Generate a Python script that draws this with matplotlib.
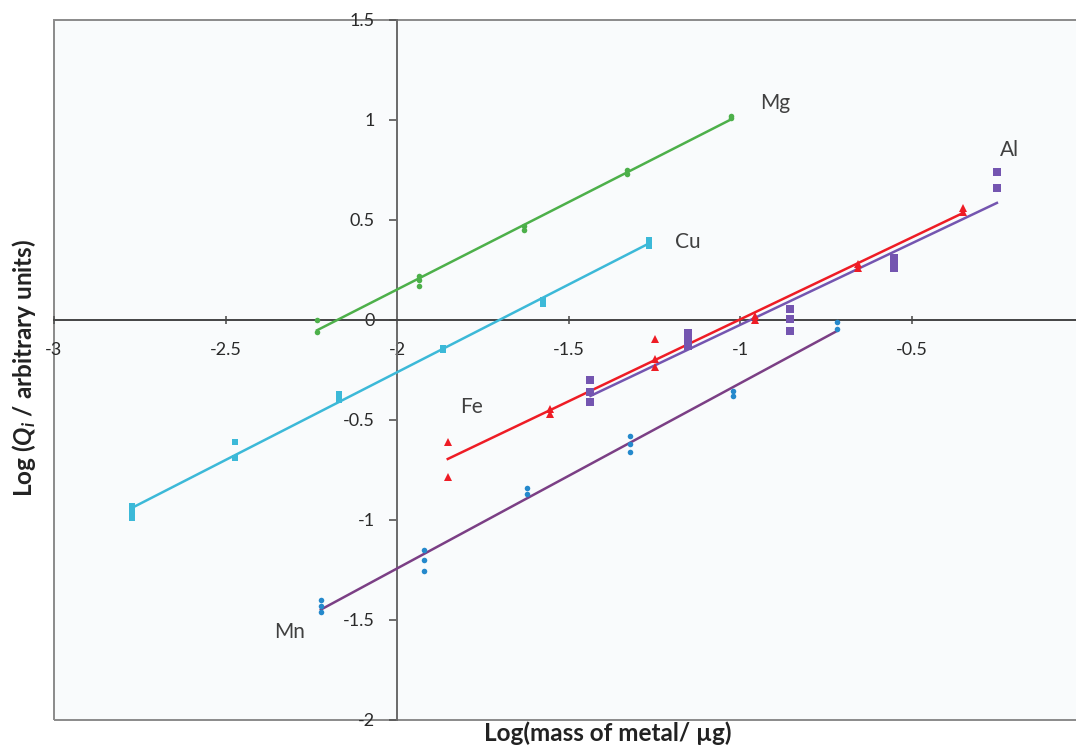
import numpy as np
import matplotlib
matplotlib.use("Agg")
import matplotlib.pyplot as plt
from matplotlib.patches import Rectangle

plt.rcParams['font.family'] = ['Lato', 'DejaVu Sans']
plt.rcParams['mathtext.fontset'] = 'custom'
plt.rcParams['mathtext.rm'] = 'Lato:bold'
plt.rcParams['mathtext.it'] = 'Lato:bold:italic'

# ---- data (log mass, log Q) ----
mg_x = [-2.233, -1.935, -1.630, -1.329, -1.025]
mg_y = [[0.0, -0.06], [0.17, 0.20, 0.22], [0.45, 0.47], [0.73, 0.75], [1.01, 1.02]]

cu_x = [-2.773, -2.472, -2.169, -1.867, -1.574, -1.266]
cu_y = [[-0.93, -0.96, -0.99], [-0.61, -0.69], [-0.37, -0.40], [-0.14, -0.15],
        [0.08, 0.10], [0.37, 0.40]]

fe_x = [-1.852, -1.554, -1.248, -0.955, -0.656, -0.350]
fe_y = [[-0.61, -0.785], [-0.445, -0.47], [-0.095, -0.195, -0.235], [0.0, 0.02],
        [0.26, 0.28], [0.54, 0.56]]

al_x = [-1.436, -1.153, -0.853, -0.550, -0.251]
al_y = [[-0.30, -0.36, -0.41], [-0.065, -0.10, -0.13], [0.055, 0.005, -0.055],
        [0.31, 0.285, 0.26], [0.74, 0.66]]

mn_x = [-2.222, -1.922, -1.620, -1.320, -1.020, -0.717]
mn_y = [[-1.40, -1.43, -1.46], [-1.15, -1.20, -1.255], [-0.84, -0.87],
        [-0.58, -0.62, -0.66], [-0.355, -0.38], [-0.01, -0.045]]

x_ticks = [-3, -2.5, -2, -1.5, -1, -0.5]
y_ticks = [-2, -1.5, -1, -0.5, 0, 0.5, 1, 1.5]

series = [
    # name, xs, ys, marker color, marker, msize, line color, label pos
    ("Mg", mg_x, mg_y, "#4db04a", "o", 4, "#4db04a", (-0.898, 1.085)),
    ("Cu", cu_x, cu_y, "#3cb9d8", "s", 4.5, "#3cb9d8", (-1.152, 0.39)),
    ("Fe", fe_x, fe_y, "#ee1c25", "^", 5.5, "#ee1c25", (-1.784, -0.435)),
    ("Al", al_x, al_y, "#7455b0", "s", 5.5, "#7455b0", (-0.213, 0.85)),
    ("Mn", mn_x, mn_y, "#2589cc", "o", 4, "#7b3f85", (-2.312, -1.56)),
]

W, H = 1076, 747
fig = plt.figure(figsize=(W / 100, H / 100), dpi=100)
left_px, right_px, top_px, bot_px = 54, 1083, 20, 720
ax = fig.add_axes([left_px / W, (H - bot_px) / H,
                   (right_px - left_px) / W, (bot_px - top_px) / H])
ax.set_facecolor("#f9fbfc")
ax.set_xlim(-3, 0)
ax.set_ylim(-2, 1.5)

for name, xs, ys, mc, mk, ms, lc, (tx, ty) in series:
    fx = np.concatenate([[x] * len(yy) for x, yy in zip(xs, ys)])
    fy = np.concatenate([yy for yy in ys])
    k, b = np.polyfit(fx, fy, 1)
    lx = np.array([min(xs), max(xs)])
    ax.plot(lx, k * lx + b, color=lc, lw=1.8, zorder=3)
    ax.plot(fx, fy, linestyle="none", marker=mk, ms=ms, color=mc,
            markeredgewidth=0, zorder=4)
    ax.text(tx, ty, name, ha="center", va="center", fontsize=15,
            color="#404040", zorder=5)

# axes crossing
for s in ("top", "right"):
    ax.spines[s].set_visible(False)
ax.spines["left"].set_position(("data", -2))
ax.spines["bottom"].set_position(("data", 0))
ax.spines["left"].set_color("#6a6a6a")
ax.spines["bottom"].set_color("#444444")
ax.spines["left"].set_linewidth(1.4)
ax.spines["bottom"].set_linewidth(1.4)
ax.set_xticks(x_ticks)
ax.set_xticklabels([f"{v:g}" for v in x_ticks])
ax.set_yticks(y_ticks)
ax.set_yticklabels([f"{v:g}" for v in y_ticks])
ax.tick_params(axis="x", direction="inout", length=6, width=1.2, colors="#555555",
               labelcolor="#2a2a2a", labelsize=13, pad=13)
ax.tick_params(axis="y", direction="out", length=6, width=1.2, colors="#555555",
               labelcolor="#2a2a2a", labelsize=13, pad=10)

# outer plot-area frame
ax.add_patch(Rectangle((0, 0), 1, 1, transform=ax.transAxes, fill=False,
                       edgecolor="#8a8a8a", lw=1.4, clip_on=False, zorder=1))

fig.text(608 / W, (H - 721) / H, "Log(mass of metal/ µg)", ha="center",
         va="top", fontsize=17.5, fontweight="bold", color="#222222")
fig.text(24 / W, (H - 368) / H, r"Log ($Q_i$ / arbitrary units)", ha="center",
         va="center", rotation=90, fontsize=17.5, fontweight="bold", color="#222222")

fig.savefig("out.png", dpi=100, facecolor="white")
